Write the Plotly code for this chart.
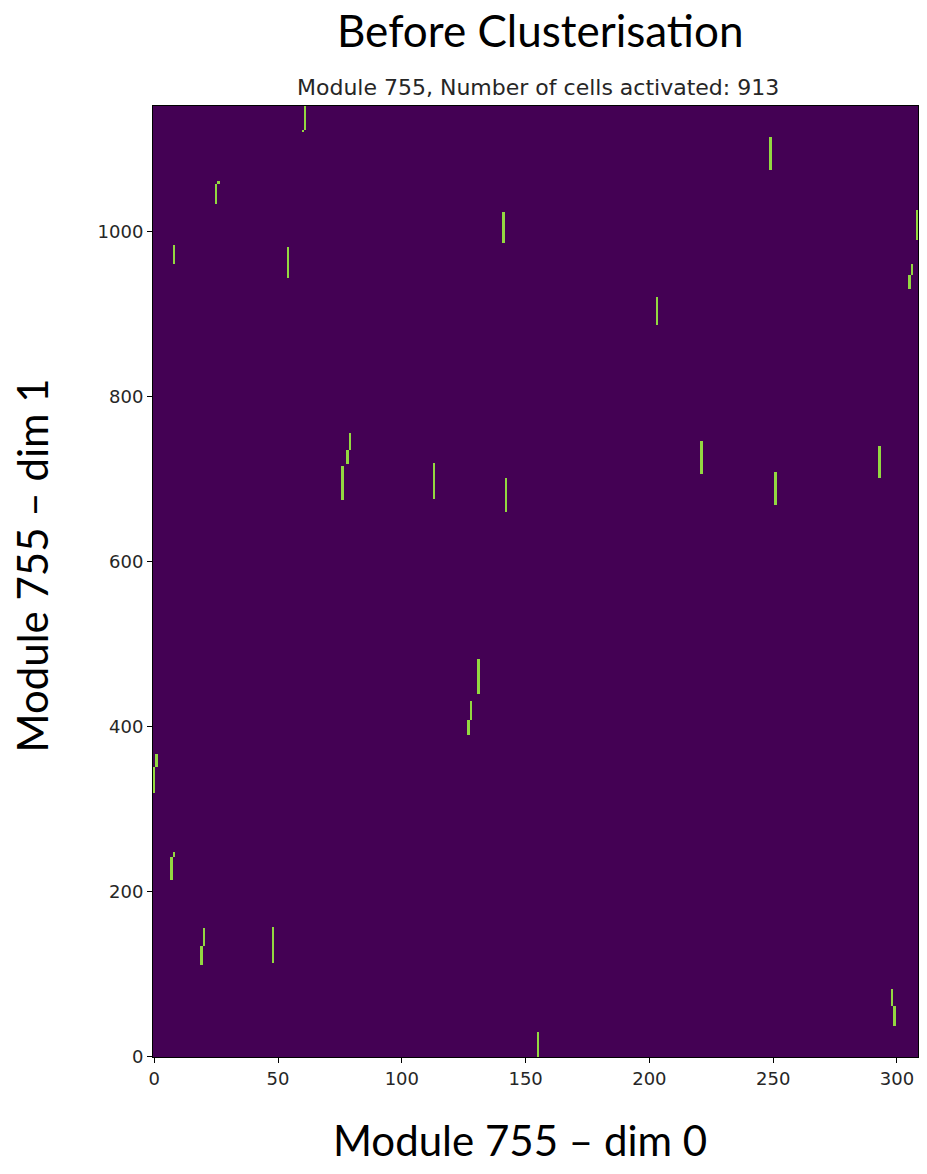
import numpy as np
import plotly.graph_objects as go

# Module geometry (cells along dim 0 and dim 1)
n_dim0 = 309
n_dim1 = 1153

# Activated cells, stored as vertical runs: column (dim 0) and inclusive row span (dim 1)
seg_col = [61, 60, 25, 26, 8, 54, 141, 249, 308, 306, 305, 203,
           79, 78, 76, 113, 142, 221, 251, 293,
           131, 128, 127, 1, 0, 7, 8, 20, 19, 48, 155, 298, 299]
seg_y0 = [1124, 1121, 1034, 1058, 961, 945, 987, 1075, 990, 948, 931, 887,
          736, 719, 675, 676, 661, 707, 669, 702,
          440, 408, 391, 351, 320, 215, 243, 134, 112, 114, 0, 62, 37]
seg_y1 = [1152, 1123, 1057, 1061, 984, 981, 1023, 1115, 1026, 960, 947, 921,
          756, 735, 715, 719, 701, 746, 708, 740,
          481, 431, 407, 366, 350, 242, 248, 156, 133, 157, 29, 82, 61]

x_ticks = [0, 50, 100, 150, 200, 250, 300]
y_ticks = [0, 200, 400, 600, 800, 1000]

module_id = 755

# Cell occupancy grid
grid = np.zeros((n_dim1, n_dim0), dtype=np.uint8)
for c, a, b in zip(seg_col, seg_y0, seg_y1):
    grid[a:b + 1, c] = 1
n_active = int(grid.sum())

fig = go.Figure(go.Heatmap(
    z=grid,
    x=np.arange(n_dim0),
    y=np.arange(n_dim1),
    colorscale=[[0, "#440154"], [1, "#93d741"]],
    zmin=0, zmax=1,
    showscale=False,
    hoverinfo="skip",
))

tick_font = dict(family="DejaVu Sans", size=18, color="#262626")
big_font = dict(family="Lato", size=42, color="black")

fig.update_xaxes(
    range=[-0.5, n_dim0 - 0.5], tickvals=x_ticks, ticks="outside", ticklen=5,
    tickcolor="black", tickfont=tick_font, showline=True, linecolor="black",
    linewidth=1, mirror=True, showgrid=False, zeroline=False,
)
fig.update_yaxes(
    range=[-0.5, n_dim1 - 0.5], tickvals=y_ticks, ticks="outside", ticklen=5,
    tickcolor="black", tickfont=tick_font, showline=True, linecolor="black",
    linewidth=1, mirror=True, showgrid=False, zeroline=False,
)

fig.update_layout(
    width=927, height=1174,
    margin=dict(l=153, r=9, t=106, b=117),
    paper_bgcolor="white", plot_bgcolor="white",
    annotations=[
        dict(text="Before Clusterisation", x=0.506, y=1.08, xref="paper", yref="paper",
             xanchor="center", yanchor="middle", showarrow=False,
             font=dict(family="Lato", size=44, color="black")),
        dict(text=f"Module {module_id}, Number of cells activated: {n_active}",
             x=0.503, y=1.019, xref="paper", yref="paper",
             xanchor="center", yanchor="middle", showarrow=False,
             font=dict(family="DejaVu Sans", size=22, color="#262626")),
        dict(text=f"Module {module_id} – dim 0", x=0.48, y=-0.087, xref="paper", yref="paper",
             xanchor="center", yanchor="middle", showarrow=False, font=big_font),
        dict(text=f"Module {module_id} – dim 1", x=-0.158, y=0.517, xref="paper", yref="paper",
             xanchor="center", yanchor="middle", showarrow=False, textangle=-90, font=big_font),
    ],
)

fig.write_html("out.html")
